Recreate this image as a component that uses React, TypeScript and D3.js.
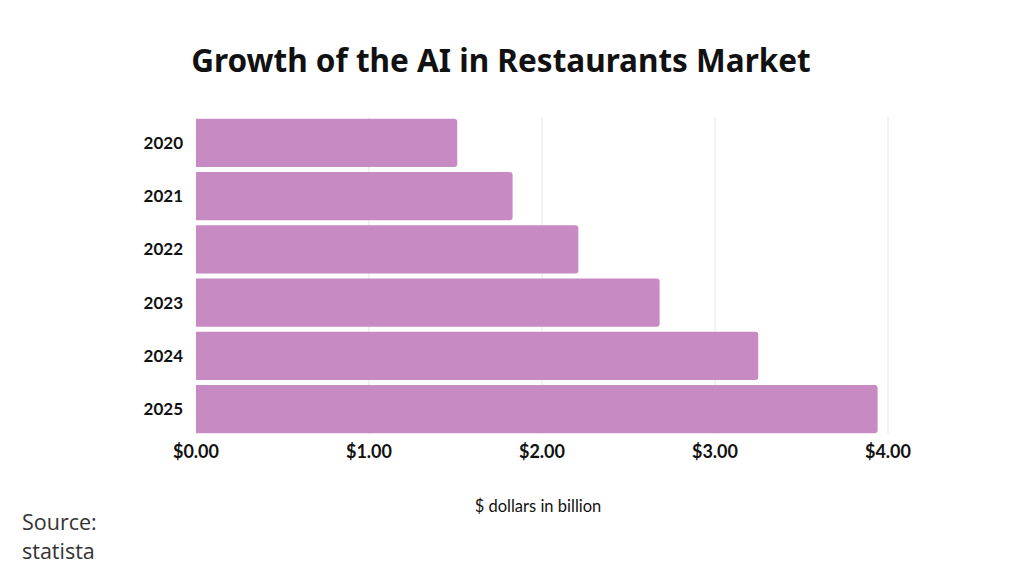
import React from "react";
import * as d3 from "d3";

const years = ["2020", "2021", "2022", "2023", "2024", "2025"];
const values = [1.51, 1.83, 2.21, 2.68, 3.25, 3.94];
const xTicks = [0, 1, 2, 3, 4];

const W = 1024;
const H = 576;

export default function App() {
  const x = d3.scaleLinear().domain([0, 4]).range([196, 888]);
  const y = d3.scaleBand<string>().domain(years).range([116.2, 435.7]).paddingInner(0.093).paddingOuter(0.0465);
  const fmt = (v: number) => "$" + d3.format(".2f")(v);
  const r = 3;
  const barPath = (x0: number, x1: number, y0: number, h: number) =>
    `M${x0},${y0}H${x1 - r}Q${x1},${y0} ${x1},${y0 + r}V${y0 + h - r}Q${x1},${y0 + h} ${x1 - r},${y0 + h}H${x0}Z`;
  return (
    <svg width={W} height={H} style={{ position: "absolute", left: 0, top: 0, background: "#fff" }}>
      <text x={501} y={72} textAnchor="middle" fontFamily="Noto Sans" fontWeight={700} fontSize={31.5} fill="#111">
        Growth of the AI in Restaurants Market
      </text>
      {xTicks.slice(1).map((t) => (
        <line key={t} x1={x(t)} x2={x(t)} y1={117} y2={434} stroke="#e6e6e6" strokeWidth={1} />
      ))}
      {years.map((yr, i) => (
        <path key={yr} d={barPath(x(0), x(values[i]), y(yr)!, y.bandwidth())} fill="#C88AC2" />
      ))}
      {years.map((yr) => (
        <text key={yr} x={183} y={y(yr)! + y.bandwidth() / 2} dy="0.35em" textAnchor="end" fontFamily="Lato" fontWeight={700} fontSize={17} fill="#111">
          {yr}
        </text>
      ))}
      {xTicks.map((t) => (
        <text key={t} x={x(t)} y={458} textAnchor="middle" fontFamily="Lato" fontWeight={700} fontSize={18} fill="#111">
          {fmt(t)}
        </text>
      ))}
      <text x={538} y={512} textAnchor="middle" fontFamily="Lato" fontSize={16.5} fill="#111">
        $ dollars in billion
      </text>
      <text x={22} y={530} fontFamily="Open Sans" fontSize={21.5} fill="#333">Source:</text>
      <text x={22} y={559} fontFamily="Open Sans" fontSize={21.5} fill="#333">statista</text>
    </svg>
  );
}
